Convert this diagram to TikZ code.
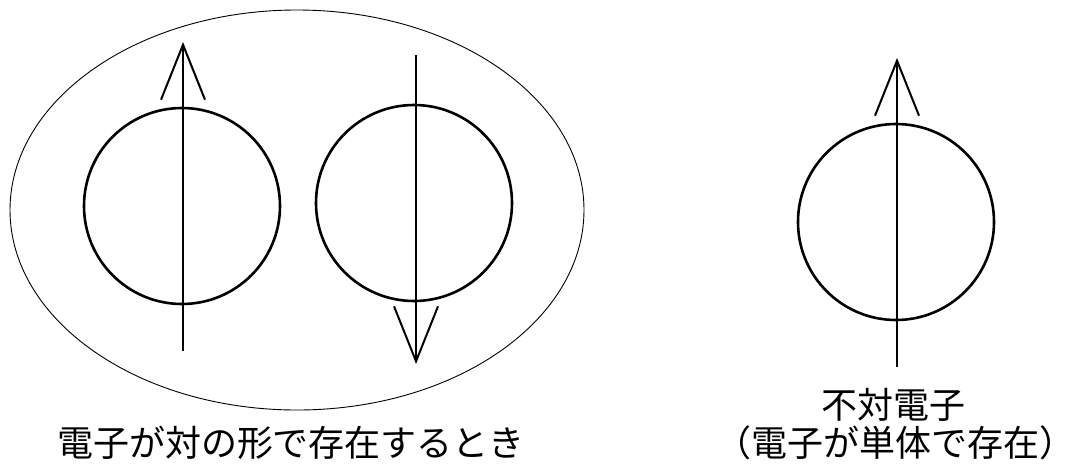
\documentclass[tikz,border=0pt]{standalone}
\usepackage{fontspec}
\newfontfamily\cjk{Noto Sans CJK JP}
\usetikzlibrary{arrows.meta,shapes.geometric}
\begin{document}
\begin{tikzpicture}[x=1pt,y=-1pt,
  orbit/.style={circle,draw,line width=2.6pt,minimum size=196pt,inner sep=0pt},
  spin/.style={line width=2pt,-{Straight Barb[length=55pt,width=44pt,line width=2pt]}},
  pairbox/.style={ellipse,draw,line width=0.9pt,minimum width=574pt,minimum height=400pt,inner sep=0pt},
  label/.style={inner sep=0pt,font=\cjk\fontsize{36pt}{40pt}\selectfont}]
\useasboundingbox (0,0) rectangle (1077,464);
\fill[white] (0,0) rectangle (1077,464);
\node[pairbox] (pair) at (297,210) {};
\node[orbit] (c1) at (182,206) {};
\node[orbit] (c2) at (414,203) {};
\node[orbit] (c3) at (896,222) {};
\coordinate (a1s) at (183,351);
\coordinate (a1e) at (183,42);
\coordinate (a2s) at (416,55);
\coordinate (a2e) at (416,364);
\coordinate (a3s) at (897,367);
\coordinate (a3e) at (897,58);
\draw[spin] (a1s) -- (a1e);
\draw[spin] (a2s) -- (a2e);
\draw[spin] (a3s) -- (a3e);
\node[label] (t1) at (291,443) {電子が対の形で存在するとき};
\node[label] (t2) at (893,405) {不対電子};
\node[label] (t3) at (895,443) {（電子が単体で存在）};
\end{tikzpicture}
\end{document}
